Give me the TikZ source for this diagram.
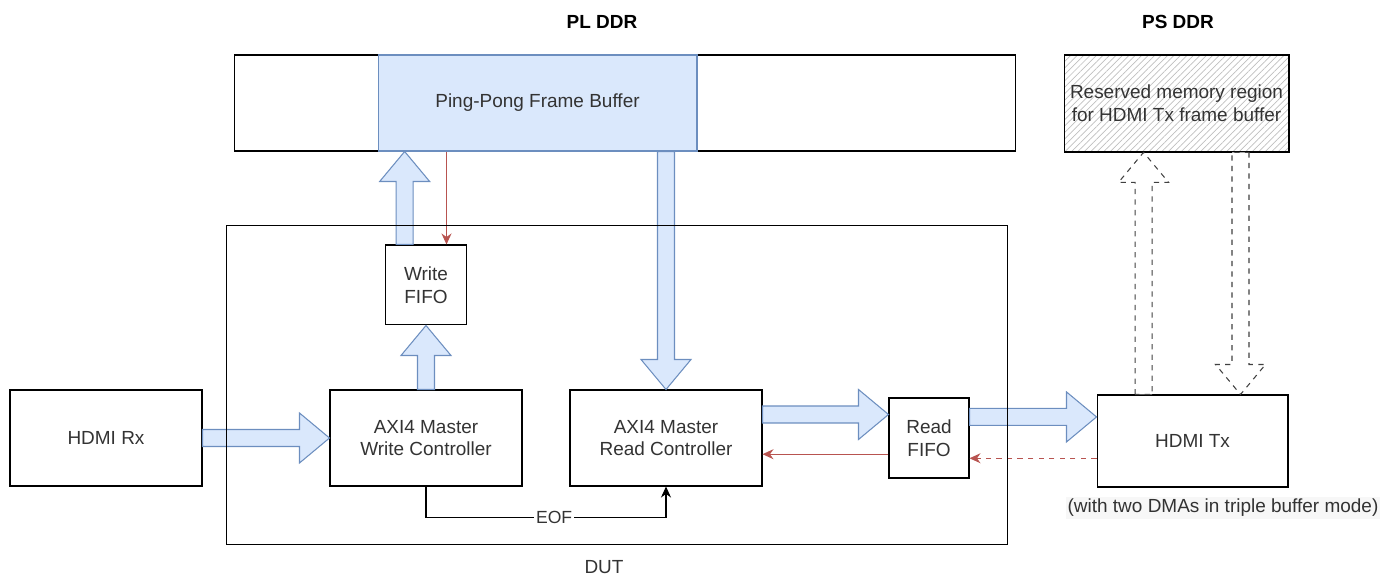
\documentclass[tikz,border=0pt]{standalone}
\usepackage{fontspec}
\setmainfont{Liberation Sans}
\usetikzlibrary{positioning,arrows.meta,calc,patterns.meta}
\definecolor{bufblue}{HTML}{DAE8FC}
\definecolor{bufedge}{HTML}{6C8EBF}
\definecolor{ctlred}{HTML}{B85450}
\definecolor{txtgray}{HTML}{333333}

\newcommand\fatarrow[3][]{%
  \draw[fat,#1] let \p1=(#2), \p2=(#3), \n1={atan2(\y2-\y1,\x2-\x1)} in
    ($(\p1)+({\n1+90}:1.7mm)$) -- ($(\p2)+({\n1+180}:6mm)+({\n1+90}:1.7mm)$)
    -- ($(\p2)+({\n1+180}:6mm)+({\n1+90}:5mm)$) -- (\p2)
    -- ($(\p2)+({\n1+180}:6mm)+({\n1-90}:5mm)$) -- ($(\p2)+({\n1+180}:6mm)+({\n1-90}:1.7mm)$)
    -- ($(\p1)+({\n1-90}:1.7mm)$) -- cycle;}

\begin{document}
\begin{tikzpicture}[
  x=0.02cm, y=-0.02cm,
  font=\fontsize{10.8}{13}\selectfont,
  text=txtgray,
  box/.style={draw,line width=0.6pt,minimum width=3.84cm,minimum height=1.92cm,align=center,inner sep=0pt},
  fifo/.style={box,minimum width=1.6cm,minimum height=1.6cm},
  fat/.style={draw=bufedge,fill=bufblue,line width=0.6pt,line join=miter},
  hollow/.style={dashed,draw=black!75,fill=white},
  ctl/.style={draw=ctlred,line width=0.6pt,-{Stealth[length=2.2mm,width=2mm]}},
  title/.style={font=\fontsize{10.8}{13}\selectfont\bfseries,text=black}
]
\useasboundingbox (0,0) rectangle (1392,577);

\node[title] (pltitle) at (602,22) {PL DDR};
\node[title] (pstitle) at (1178,22) {PS DDR};
\node[box,minimum width=15.64cm] (pl) at (625,103) {};
\node[box,draw=bufedge,fill=bufblue,minimum width=6.38cm] (pp) at (537.5,103) {Ping-Pong Frame Buffer};
\node[box,minimum width=4.5cm,minimum height=1.94cm,
  pattern={Lines[angle=45,distance=2.6pt,line width=0.4pt]},pattern color=gray!50] (ps) at (1176.5,103.5)
  {Reserved memory region\\for HDMI Tx frame buffer};

\node[box] (rx) at (106,438) {HDMI Rx};
\node[box,right=2.54cm of rx] (wctrl) {AXI4 Master\\Write Controller};
\node[box,right=0.94cm of wctrl] (rctrl) {AXI4 Master\\Read Controller};
\node[fifo,right=2.52cm of rctrl] (rfifo) {Read\\FIFO};
\node[box,minimum width=3.82cm,minimum height=1.84cm,right=2.54cm of rfifo,yshift=-0.06cm] (tx) {HDMI Tx};
\node[fifo,minimum width=1.62cm,above=1.28cm of wctrl] (wfifo) {Write\\FIFO};

\node (dutname) at (604,567) {DUT};
\node[fill=black!3,inner sep=1pt] (note) at (1223,508) {(with two DMAs in triple buffer mode)};

\coordinate (wup) at ($(wfifo.north west)!.24!(wfifo.north east)$);
\coordinate (wred) at ($(wfifo.north west)!.75!(wfifo.north east)$);
\coordinate (rin) at ($(rfifo.north west)!.21!(rfifo.south west)$);
\coordinate (rback) at ($(rfifo.north west)!.7!(rfifo.south west)$);
\coordinate (rout) at ($(rfifo.north east)!.24!(rfifo.south east)$);
\coordinate (txback) at ($(rfifo.north east)!.75!(rfifo.south east)$);
\coordinate (txup) at ($(tx.north west)!.245!(tx.north east)$);
\coordinate (txdown) at ($(tx.north west)!.75!(tx.north east)$);

\fatarrow{rx.east}{wctrl.west}
\fatarrow{wctrl.north}{wfifo.south}
\fatarrow{wup}{wup |- pp.south}
\fatarrow{pp.south -| rctrl.north}{rctrl.north}
\fatarrow{rctrl.east |- rin}{rin}
\fatarrow{rout}{rout -| tx.west}
\fatarrow[hollow]{txup}{txup |- ps.south}
\fatarrow[hollow]{txdown |- ps.south}{txdown}

\draw[ctl] (wred |- pp.south) -- (wred);
\draw[ctl] (rback) -- (rback -| rctrl.east);
\draw[ctl,dashed] (txback -| tx.west) -- (txback);
\draw[line width=0.6pt,-{Stealth[length=2.2mm,width=2mm]}] (wctrl.south) -- ++(0,31) -| (rctrl.south)
  node[pos=0.267,fill=white,inner sep=1pt,font=\fontsize{10}{12}\selectfont] {EOF};

\node[draw,line width=0.6pt,minimum width=15.64cm,minimum height=6.4cm] (dut) at (617,385) {};
\end{tikzpicture}
\end{document}
